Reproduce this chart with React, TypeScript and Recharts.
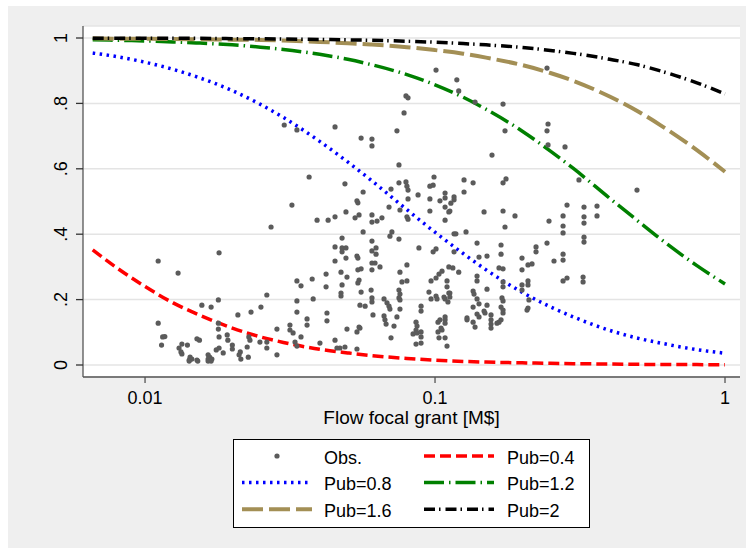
import { ComposedChart, Scatter, Line, XAxis, YAxis, CartesianGrid, Legend, Label } from 'recharts'

const FONT = '"Liberation Sans", Arial, Helvetica, sans-serif'

const xTicks = [0.01, 0.1, 1]
const yTicks = [0, 0.2, 0.4, 0.6, 0.8, 1]
const yTickLabels = ['0', '.2', '.4', '.6', '.8', '1']

// observed points, [grant M$, share]
const obs: [number, number][] = [
  [0.0111, 0.318], [0.018, 0.343], [0.013, 0.281], [0.0179, 0.199], [0.0157, 0.183], [0.0169, 0.177],
  [0.0111, 0.128], [0.0209, 0.153], [0.0232, 0.162], [0.0179, 0.128], [0.0179, 0.11], [0.0115, 0.086],
  [0.0117, 0.087], [0.0114, 0.061], [0.0151, 0.08], [0.0154, 0.076], [0.018, 0.086], [0.0192, 0.092],
  [0.0193, 0.076], [0.0134, 0.064], [0.014, 0.061], [0.0131, 0.052], [0.0133, 0.04], [0.0134, 0.034],
  [0.0143, 0.024], [0.0142, 0.015], [0.0145, 0.018], [0.0142, 0.012], [0.0151, 0.015], [0.0152, 0.012],
  [0.0165, 0.031], [0.0167, 0.024], [0.0165, 0.018], [0.017, 0.018], [0.0165, 0.012], [0.0169, 0.012],
  [0.0176, 0.046], [0.018, 0.052], [0.0186, 0.037], [0.02, 0.061], [0.02, 0.049], [0.0213, 0.04],
  [0.0211, 0.031], [0.0214, 0.018], [0.0225, 0.055], [0.0227, 0.024], [0.0228, 0.086], [0.023, 0.076],

  [0.0302, 0.734], [0.0334, 0.719], [0.0452, 0.728], [0.0368, 0.575], [0.0489, 0.554], [0.0321, 0.489],
  [0.0538, 0.502], [0.0542, 0.496], [0.0272, 0.422], [0.0392, 0.443], [0.0428, 0.443], [0.0452, 0.453],
  [0.0493, 0.468], [0.053, 0.45], [0.0547, 0.459], [0.0478, 0.388], [0.0452, 0.361], [0.0478, 0.358],
  [0.0478, 0.346], [0.0493, 0.358], [0.0452, 0.318], [0.0493, 0.327], [0.0538, 0.333], [0.0542, 0.327],
  [0.0474, 0.284], [0.0497, 0.269], [0.0542, 0.291], [0.0556, 0.294], [0.0547, 0.26], [0.0542, 0.251],
  [0.0334, 0.257], [0.0345, 0.242], [0.0377, 0.263], [0.0421, 0.278], [0.0421, 0.239], [0.0478, 0.245],
  [0.0474, 0.22], [0.0474, 0.211], [0.0263, 0.214], [0.0334, 0.196], [0.038, 0.202], [0.0251, 0.177],
  [0.0334, 0.162], [0.0424, 0.159], [0.0424, 0.135], [0.0362, 0.141], [0.0362, 0.122], [0.0316, 0.122],
  [0.0316, 0.107], [0.0324, 0.098], [0.0285, 0.11], [0.0345, 0.086], [0.0497, 0.11], [0.0538, 0.101],
  [0.0547, 0.116], [0.0249, 0.07], [0.0263, 0.07], [0.0263, 0.052], [0.0285, 0.031], [0.0329, 0.07],
  [0.0334, 0.058], [0.0401, 0.067], [0.0452, 0.076], [0.0459, 0.052], [0.047, 0.052], [0.0489, 0.055],
  [0.0538, 0.049], [0.0551, 0.183], [0.0551, 0.113],

  [0.1008, 0.902], [0.0794, 0.823], [0.0807, 0.817], [0.0782, 0.771], [0.0739, 0.716], [0.0556, 0.694],
  [0.0606, 0.691], [0.0606, 0.67], [0.0751, 0.612], [0.0565, 0.529], [0.0794, 0.56], [0.08, 0.547],
  [0.0751, 0.557], [0.0705, 0.538], [0.0807, 0.535], [0.0992, 0.575], [0.096, 0.547], [0.0985, 0.55],
  [0.0874, 0.52], [0.0807, 0.508], [0.0694, 0.483], [0.0757, 0.474], [0.096, 0.508], [0.104, 0.502],
  [0.1083, 0.526], [0.1083, 0.511], [0.1083, 0.483], [0.1116, 0.468], [0.096, 0.471], [0.08, 0.453],
  [0.0807, 0.446], [0.0606, 0.459], [0.0606, 0.437], [0.0631, 0.44], [0.0656, 0.45], [0.1083, 0.443],
  [0.0565, 0.407], [0.071, 0.407], [0.0699, 0.394], [0.0751, 0.385], [0.0606, 0.379], [0.088, 0.358],
  [0.1008, 0.355], [0.0985, 0.346], [0.0606, 0.349], [0.0626, 0.358], [0.0626, 0.339], [0.0606, 0.312],
  [0.0621, 0.312], [0.0606, 0.291], [0.0646, 0.3], [0.08, 0.306], [0.0757, 0.284], [0.0969, 0.257],
  [0.1008, 0.266], [0.1032, 0.278], [0.1057, 0.287], [0.11, 0.257], [0.1116, 0.3], [0.08, 0.257],
  [0.0769, 0.254], [0.0953, 0.223], [0.0969, 0.202], [0.1008, 0.211], [0.1016, 0.202], [0.1074, 0.208],
  [0.1083, 0.202], [0.1116, 0.22], [0.0751, 0.229], [0.0757, 0.217], [0.0751, 0.205], [0.0757, 0.199],
  [0.0602, 0.229], [0.0606, 0.205], [0.0606, 0.193], [0.0667, 0.202], [0.0683, 0.19], [0.0694, 0.18],
  [0.0699, 0.171], [0.0574, 0.18], [0.0556, 0.223], [0.0611, 0.153], [0.0667, 0.15], [0.0672, 0.138],
  [0.0678, 0.125], [0.0739, 0.147], [0.0757, 0.171], [0.0895, 0.18], [0.0895, 0.165], [0.0722, 0.119],
  [0.086, 0.131], [0.0867, 0.119], [0.086, 0.107], [0.0867, 0.098], [0.084, 0.095], [0.0895, 0.101],
  [0.0895, 0.086], [0.0895, 0.067], [0.086, 0.064], [0.0705, 0.083], [0.1083, 0.147], [0.1083, 0.138],
  [0.1083, 0.128], [0.1024, 0.131], [0.1049, 0.113], [0.1057, 0.107], [0.1024, 0.101], [0.1083, 0.083],
  [0.1032, 0.083], [0.11, 0.239], [0.1108, 0.193], [0.11, 0.058], [0.104, 0.138],

  [0.1189, 0.872], [0.1207, 0.838], [0.1374, 0.804], [0.1716, 0.798], [0.1743, 0.716], [0.1572, 0.642],
  [0.1259, 0.566], [0.1353, 0.557], [0.1259, 0.529], [0.1163, 0.514], [0.1163, 0.505], [0.1134, 0.495],
  [0.1125, 0.471], [0.1716, 0.557], [0.1757, 0.569], [0.1476, 0.468], [0.1716, 0.471], [0.1887, 0.456],
  [0.1743, 0.422], [0.1279, 0.407], [0.1163, 0.401], [0.118, 0.401], [0.1396, 0.373], [0.1689, 0.367],
  [0.223, 0.361], [0.223, 0.346], [0.1163, 0.346], [0.1689, 0.339], [0.1418, 0.33], [0.1511, 0.333],
  [0.1995, 0.327], [0.2092, 0.306], [0.216, 0.309], [0.1995, 0.291], [0.1662, 0.297], [0.1716, 0.294],
  [0.1152, 0.297], [0.1207, 0.284], [0.1396, 0.272], [0.1396, 0.257], [0.1716, 0.254], [0.1716, 0.239],
  [0.2092, 0.257], [0.2092, 0.245], [0.1995, 0.245], [0.1995, 0.229], [0.1511, 0.232], [0.1353, 0.226],
  [0.1363, 0.217], [0.1125, 0.22], [0.1125, 0.208], [0.1396, 0.202], [0.1702, 0.205], [0.1716, 0.196],
  [0.2108, 0.199], [0.2092, 0.174], [0.2076, 0.168], [0.1353, 0.177], [0.1418, 0.187], [0.1511, 0.183],
  [0.1476, 0.165], [0.1487, 0.159], [0.1396, 0.156], [0.1418, 0.147], [0.1289, 0.144], [0.1289, 0.138],
  [0.1353, 0.131], [0.1374, 0.116], [0.156, 0.153], [0.156, 0.138], [0.156, 0.125], [0.156, 0.113],
  [0.1689, 0.177], [0.1716, 0.168], [0.1716, 0.159], [0.1689, 0.138], [0.1662, 0.131], [0.1636, 0.128],

  [0.2433, 0.908], [0.2453, 0.737], [0.2433, 0.716], [0.2453, 0.673], [0.2807, 0.667], [0.3136, 0.566],
  [0.4971, 0.535], [0.2852, 0.489], [0.3264, 0.483], [0.3619, 0.486], [0.3619, 0.456], [0.3264, 0.453],
  [0.3264, 0.434], [0.2764, 0.456], [0.2472, 0.44], [0.2764, 0.425], [0.2764, 0.404], [0.3264, 0.391],
  [0.3264, 0.376], [0.2433, 0.373], [0.2764, 0.339], [0.2764, 0.321], [0.2572, 0.318], [0.2852, 0.266],
  [0.2764, 0.257], [0.324, 0.269], [0.324, 0.254],
]

// fitted curves, read at these grant values
const curveX = [0.0066, 0.008, 0.01, 0.0125, 0.015, 0.02, 0.025, 0.03, 0.04, 0.05, 0.06, 0.08, 0.1, 0.125, 0.15, 0.2, 0.25, 0.3, 0.4, 0.5, 0.6, 0.8, 1.0]
const pub04 = [0.352, 0.297, 0.24, 0.19, 0.157, 0.113, 0.086, 0.069, 0.048, 0.037, 0.029, 0.02, 0.015, 0.011, 0.009, 0.0065, 0.005, 0.004, 0.003, 0.002, 0.0017, 0.0012, 0.0009]
const pub08 = [0.954, 0.943, 0.926, 0.904, 0.882, 0.839, 0.797, 0.757, 0.684, 0.621, 0.566, 0.475, 0.406, 0.341, 0.291, 0.222, 0.178, 0.147, 0.106, 0.082, 0.067, 0.047, 0.036]
const pub12 = [0.995, 0.993, 0.991, 0.988, 0.985, 0.979, 0.972, 0.965, 0.95, 0.935, 0.919, 0.888, 0.857, 0.819, 0.782, 0.715, 0.654, 0.601, 0.51, 0.441, 0.385, 0.304, 0.248]
const pub16 = [0.999, 0.998, 0.998, 0.997, 0.996, 0.995, 0.994, 0.992, 0.988, 0.984, 0.98, 0.972, 0.963, 0.952, 0.94, 0.917, 0.893, 0.869, 0.821, 0.776, 0.733, 0.657, 0.591]
const pub20 = [0.9995, 0.9994, 0.9992, 0.9991, 0.999, 0.998, 0.9975, 0.997, 0.9956, 0.9943, 0.993, 0.99, 0.987, 0.983, 0.979, 0.971, 0.962, 0.953, 0.935, 0.918, 0.899, 0.863, 0.829]

const series = [
  { name: 'Pub=0.4', values: pub04, color: '#ff0000', dash: '11 5', width: 3.5 },
  { name: 'Pub=0.8', values: pub08, color: '#0000ff', dash: '2.5 4.5', width: 3.5 },
  { name: 'Pub=1.2', values: pub12, color: '#008000', dash: '20 5 1.5 5', width: 3.5 },
  { name: 'Pub=1.6', values: pub16, color: '#a38f55', dash: '21 6', width: 4 },
  { name: 'Pub=2', values: pub20, color: '#000000', dash: '11 4 1.5 5', width: 3.5 },
]

const obsData = obs.map(([x, y]) => ({ x, y }))
const lines = series.map((s) => ({ ...s, data: curveX.map((x, i) => ({ x, y: s.values[i] })) }))

const DOT = '#5b5b5b'

function Dot(props: any) {
  if (props.cx == null || props.cy == null) return null
  return <circle cx={props.cx} cy={props.cy} r={2.6} fill={DOT} />
}

function YTick({ x, y, payload }: any) {
  const label = yTickLabels[yTicks.indexOf(payload.value)]
  return (
    <text x={x} y={y} transform={`rotate(-90 ${x} ${y})`} textAnchor="middle" fontSize={18} fill="#000" fontFamily={FONT}>
      {label}
    </text>
  )
}

function LegendBox() {
  const items = [{ name: 'Obs.' }, ...series]
  return (
    <svg width={357} height={89} style={{ display: 'block' }}>
      <rect x={0.5} y={0.5} width={356} height={88} fill="#fff" stroke="#000" strokeWidth={1} />
      {items.map((it: any, i) => {
        const col = i % 2
        const row = Math.floor(i / 2)
        const cy = 17 + row * 26.6
        const x0 = col === 0 ? 9 : 191
        const tx = col === 0 ? 91 : 274
        return (
          <g key={it.name}>
            {i === 0 ? (
              <circle cx={44} cy={cy} r={2.6} fill={DOT} />
            ) : (
              <line x1={x0} y1={cy} x2={x0 + 70} y2={cy} stroke={it.color} strokeWidth={it.width} strokeDasharray={it.dash} />
            )}
            <text x={tx} y={cy + 7.5} fontSize={18} fontFamily={FONT} fill="#000">
              {it.name}
            </text>
          </g>
        )
      })}
    </svg>
  )
}

export default function App() {
  return (
    <div style={{ position: 'absolute', left: 8, top: 6, width: 738, height: 542, background: '#efefef' }}>
      <ComposedChart width={738} height={542} margin={{ top: 20, right: 6, bottom: 131, left: 0 }}>
        <CartesianGrid vertical={false} stroke="#e4e4e4" strokeWidth={1.5} fill="#ffffff" fillOpacity={1} />
        <XAxis
          dataKey="x"
          type="number"
          scale="log"
          domain={[0.00611, 1.1264]}
          allowDataOverflow
          ticks={xTicks}
          tickFormatter={(v) => String(v)}
          height={40}
          tickSize={6}
          tickMargin={8}
          axisLine={{ stroke: '#555', strokeWidth: 1.3 }}
          tickLine={{ stroke: '#555', strokeWidth: 1.3 }}
          tick={{ fill: '#000', fontSize: 18, fontFamily: FONT }}
        >
          <Label
            content={() => (
              <text x={403.5} y={418} textAnchor="middle" fontSize={19} fontFamily={FONT} fill="#000">
                Flow focal grant [M$]
              </text>
            )}
          />
        </XAxis>
        <YAxis
          dataKey="y"
          type="number"
          domain={[-0.0367, 1.0367]}
          allowDataOverflow
          ticks={yTicks}
          width={75}
          tickSize={7}
          tickMargin={9}
          axisLine={{ stroke: '#555', strokeWidth: 1.3 }}
          tickLine={{ stroke: '#333', strokeWidth: 1.3 }}
          tick={<YTick />}
        />
        <Scatter name="Obs." data={obsData} fill={DOT} shape={<Dot />} isAnimationActive={false} />
        {lines.map((s) => (
          <Line
            key={s.name}
            name={s.name}
            data={s.data}
            dataKey="y"
            type="monotone"
            stroke={s.color}
            strokeWidth={s.width}
            strokeDasharray={s.dash}
            dot={false}
            activeDot={false}
            isAnimationActive={false}
          />
        ))}
        <Legend
          layout="horizontal"
          verticalAlign="middle"
          align="center"
          content={() => <LegendBox />}
          wrapperStyle={{ position: 'absolute', left: 225, top: 433, width: 357, height: 89 }}
        />
      </ComposedChart>
    </div>
  )
}
